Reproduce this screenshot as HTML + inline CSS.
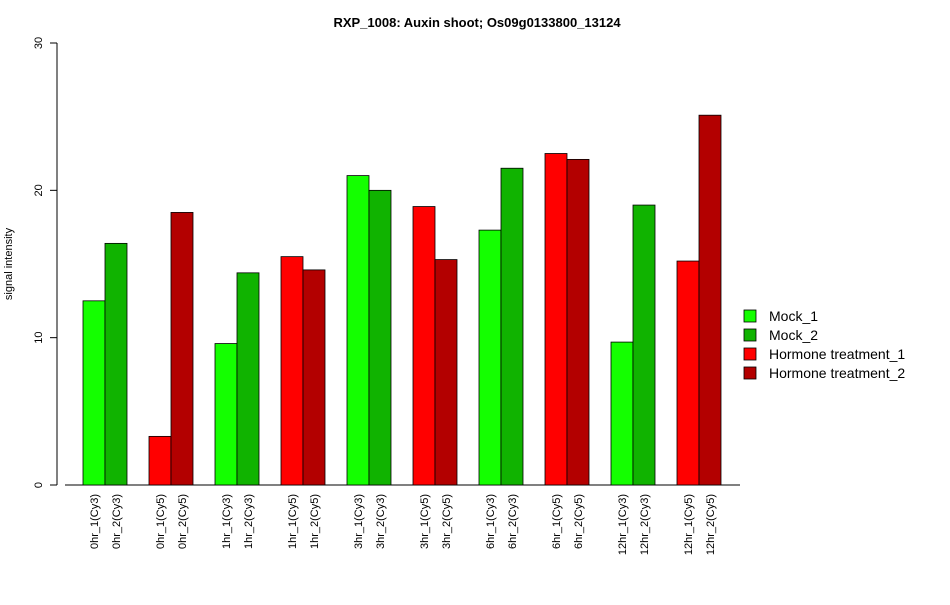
<!DOCTYPE html>
<html><head><meta charset="utf-8"><style>
body{margin:0;background:#fff;width:950px;height:600px;overflow:hidden}
svg{font-family:"Liberation Sans",Arial,sans-serif}
</style></head><body>
<svg id="chart" width="950" height="600" xmlns="http://www.w3.org/2000/svg">
<text x="477" y="27" text-anchor="middle" font-size="13" font-weight="bold">RXP_1008: Auxin shoot; Os09g0133800_13124</text>
<text transform="translate(12,264) rotate(-90)" text-anchor="middle" font-size="11">signal intensity</text>
<g id="yaxis"></g>
<g id="bars"></g>
<g id="xlabels"></g>
<g id="legend"></g>
</svg>
<script>
const categories=["0hr_1(Cy3)","0hr_2(Cy3)","0hr_1(Cy5)","0hr_2(Cy5)","1hr_1(Cy3)","1hr_2(Cy3)","1hr_1(Cy5)","1hr_2(Cy5)","3hr_1(Cy3)","3hr_2(Cy3)","3hr_1(Cy5)","3hr_2(Cy5)","6hr_1(Cy3)","6hr_2(Cy3)","6hr_1(Cy5)","6hr_2(Cy5)","12hr_1(Cy3)","12hr_2(Cy3)","12hr_1(Cy5)","12hr_2(Cy5)"];
const values=[12.5,16.4,3.3,18.5,9.6,14.4,15.5,14.6,21.0,20.0,18.9,15.3,17.3,21.5,22.5,22.1,9.7,19.0,15.2,25.1];
const seriesIndex=[0,1,2,3,0,1,2,3,0,1,2,3,0,1,2,3,0,1,2,3];
const seriesNames=["Mock_1","Mock_2","Hormone treatment_1","Hormone treatment_2"];
const seriesColors=["#14ff00","#10b300","#ff0000","#b30000"];
const yTicks=[0,10,20,30];
const NS="http://www.w3.org/2000/svg";
const y0=485,yTop=43,yMax=30;
function yScale(v){return y0-(y0-yTop)*v/yMax;}
function xScale(i){return 83+Math.floor(i/2)*66+(i%2)*22;}
const barW=22;
function mk(tag,attrs,parent){const e=document.createElementNS(NS,tag);for(const k in attrs)e.setAttribute(k,attrs[k]);parent.appendChild(e);return e;}
const ya=document.getElementById('yaxis');
let l=mk('line',{x1:57,x2:57,y1:yScale(0),y2:yScale(30),stroke:'#000'},ya);


yTicks.forEach(t=>{
 const tk=mk('line',{x1:50,x2:57,y1:yScale(t),y2:yScale(t),stroke:'#000'},ya);
 
 
 const tx=mk('text',{transform:`translate(42,${yScale(t)}) rotate(-90)`,'text-anchor':'middle','font-size':11},ya);
 tx.textContent=t;
 
 
});
const xl=mk('line',{x1:65,x2:740,y1:y0,y2:y0,stroke:'#000'},ya);


const bg=document.getElementById('bars'),lg=document.getElementById('xlabels');
values.forEach((v,i)=>{
 const r=mk('rect',{x:xScale(i),y:yScale(v),width:barW,height:yScale(0)-yScale(v),fill:seriesColors[seriesIndex[i]],stroke:'#000','stroke-width':0.8},bg);
 
 
 const cx=xScale(i)+barW/2+4;
 const t=mk('text',{transform:`translate(${cx},494) rotate(-90)`,'text-anchor':'end','font-size':11},lg);
 t.textContent=categories[i];
 
 
});
const leg=document.getElementById('legend');
seriesNames.forEach((n,i)=>{
 const y=316+i*19;
 const s=mk('rect',{x:744,y:y-6,width:12,height:12,fill:seriesColors[i],stroke:'#000','stroke-width':0.8},leg);
 
 
 const t=mk('text',{x:769,y:y+5,'font-size':14},leg);
 t.textContent=n;
 
 
});
</script>
</body></html>
